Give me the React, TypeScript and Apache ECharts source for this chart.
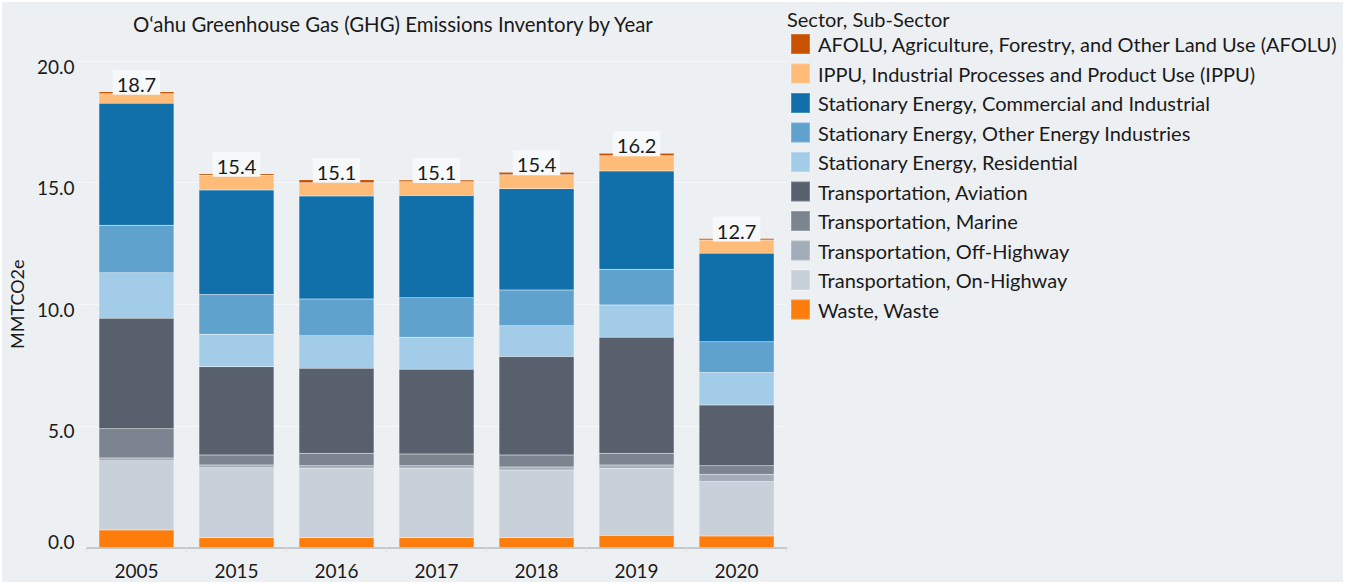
import React, { useEffect, useRef } from "react";
import * as echarts from "echarts";

const years = ["2005", "2015", "2016", "2017", "2018", "2019", "2020"];
const waste = [0.72, 0.40, 0.40, 0.40, 0.40, 0.49, 0.47];
const onHighway = [2.85, 2.88, 2.86, 2.86, 2.79, 2.77, 2.24];
const offHighway = [0.11, 0.11, 0.10, 0.10, 0.12, 0.13, 0.30];
const marine = [1.20, 0.41, 0.51, 0.48, 0.49, 0.48, 0.35];
const aviation = [4.54, 3.63, 3.50, 3.49, 4.05, 4.77, 2.50];
const residential = [1.88, 1.34, 1.34, 1.31, 1.27, 1.33, 1.33];
const otherEnergy = [1.95, 1.63, 1.51, 1.63, 1.47, 1.47, 1.27];
const commercial = [5.01, 4.30, 4.23, 4.20, 4.16, 4.04, 3.64];
const ippu = [0.39, 0.60, 0.55, 0.57, 0.57, 0.62, 0.54];
const afolu = [0.09, 0.06, 0.12, 0.07, 0.11, 0.11, 0.06];
const totals = [18.7, 15.4, 15.1, 15.1, 15.4, 16.2, 12.7];

const seriesNames = [
  "Waste, Waste",
  "Transportation, On-Highway",
  "Transportation, Off-Highway",
  "Transportation, Marine",
  "Transportation, Aviation",
  "Stationary Energy, Residential",
  "Stationary Energy, Other Energy Industries",
  "Stationary Energy, Commercial and Industrial",
  "IPPU, Industrial Processes and Product Use (IPPU)",
  "AFOLU, Agriculture, Forestry, and Other Land Use (AFOLU)",
];
const seriesData = [waste, onHighway, offHighway, marine, aviation, residential, otherEnergy, commercial, ippu, afolu];
const seriesColors = [
  "#fc7d0b", "#c8d0d9", "#a3acb9", "#7b848f", "#57606c",
  "#a3cce9", "#5fa2ce", "#1170aa", "#ffbc79", "#c85200",
];

const FONT = "Lato";
const BG = "#edf0f3";
const TXT = "#1a1a1a";

export default function App() {
  const ref = useRef<HTMLDivElement>(null);
  useEffect(() => {
    if (!ref.current) return;
    const chart = echarts.init(ref.current, null, { renderer: "svg" });
    const series: any[] = seriesNames.map((name, i) => ({
      name,
      type: "bar",
      stack: "total",
      barWidth: 75,
      data: seriesData[i],
      itemStyle: { color: seriesColors[i], borderColor: "rgba(255,255,255,0.2)", borderWidth: 0.5 },
      label:
        i === seriesNames.length - 1
          ? {
              show: true,
              position: "top",
              distance: -3,
              formatter: (p: any) => totals[p.dataIndex].toFixed(1),
              fontFamily: FONT,
              fontSize: 20,
              color: TXT,
              backgroundColor: "#f6f8fa",
              padding: [4, 4, 1, 4],
            }
          : { show: false },
    }));
    chart.setOption({
      animation: false,
      backgroundColor: "#ffffff",
      textStyle: { fontFamily: FONT },
      graphic: [
        {
          type: "rect",
          z: -100,
          silent: true,
          shape: { x: 2, y: 2, width: 1341, height: 580 },
          style: { fill: BG },
        },
      ],
      title: [
        {
          text: "O‘ahu Greenhouse Gas (GHG) Emissions Inventory by Year",
          left: 133,
          top: 14,
          padding: 0,
          textStyle: { fontFamily: FONT, fontSize: 20.4, fontWeight: "normal", color: TXT },
        },
        {
          text: "Sector, Sub-Sector",
          left: 787,
          top: 9,
          padding: 0,
          textStyle: { fontFamily: FONT, fontSize: 20, fontWeight: "normal", color: TXT },
        },
      ],
      legend: {
        orient: "vertical",
        left: 790,
        top: 33,
        padding: 0,
        itemWidth: 19,
        itemHeight: 20,
        itemGap: 7.5,
        icon: "rect",
        data: seriesNames.slice().reverse(),
        textStyle: { fontFamily: FONT, fontSize: 20, lineHeight: 20, color: TXT, padding: [0, 0, 0, 3] },
      },
      grid: { left: 85, right: 558.4, top: 61, bottom: 36.5, containLabel: false },
      xAxis: {
        type: "category",
        data: years,
        axisLine: { lineStyle: { color: "#c6c9cc", width: 2 } },
        axisTick: { show: true, length: 5, lineStyle: { color: "#dde0e3" } },
        axisLabel: { fontFamily: FONT, fontSize: 19, color: TXT, margin: 13 },
      },
      yAxis: {
        type: "value",
        min: 0,
        max: 20,
        interval: 5,
        name: "MMTCO2e",
        nameLocation: "middle",
        nameGap: 59,
        nameTextStyle: { fontFamily: FONT, fontSize: 18, color: TXT },
        axisLine: { show: false },
        axisTick: { show: true, length: 8, lineStyle: { color: "#f7f8fa" } },
        splitLine: { show: true, lineStyle: { color: "#f7f8fa", width: 1 } },
        axisLabel: {
          margin: 12,
          formatter: (v: number) => (v === 0 ? `{z|${v.toFixed(1)}}` : `{n|${v.toFixed(1)}}`),
          rich: {
            n: { fontFamily: FONT, fontSize: 19, color: TXT, padding: [10, 0, 0, 0] },
            z: { fontFamily: FONT, fontSize: 19, color: TXT, padding: [0, 0, 12, 0] },
          },
        },
      },
      series,
    });
    return () => chart.dispose();
  }, []);
  return <div ref={ref} style={{ position: "fixed", left: 0, top: 0, width: 1345, height: 584 }} />;
}
